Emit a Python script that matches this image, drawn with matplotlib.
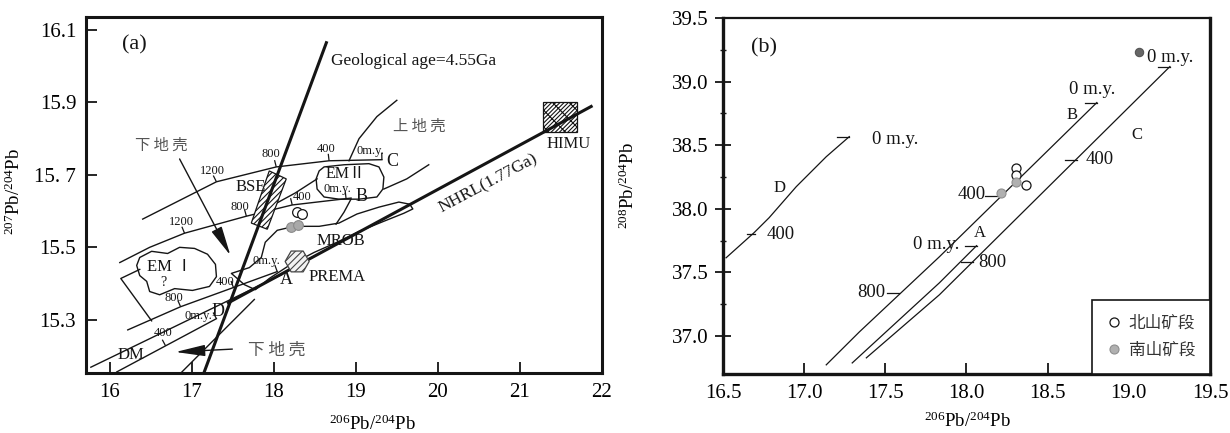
import numpy as np
import matplotlib
matplotlib.use('Agg')
import matplotlib.pyplot as plt
from matplotlib.patches import Polygon, Rectangle

plt.rcParams['font.family'] = ['Liberation Serif', 'Noto Sans CJK SC', 'DejaVu Sans']
plt.rcParams['mathtext.fontset'] = 'custom'
plt.rcParams['mathtext.rm'] = 'Liberation Serif'
plt.rcParams['mathtext.it'] = 'Liberation Serif:italic'
plt.rcParams['hatch.linewidth'] = 0.8

# ================= Panel (a) data: 207Pb/204Pb vs 206Pb/204Pb =================
a_xticks = [16, 17, 18, 19, 20, 21, 22]
a_xticklabels = ['16', '17', '18', '19', '20', '21', '22']
a_yticks = [15.3, 15.5, 15.7, 15.9, 16.1]
a_yticklabels = ['15.3', '15.5', '15. 7', '15.9', '16.1']

geochron_x = [17.15, 18.64]
geochron_y = [15.155, 16.065]
nhrl_x = [17.446, 21.868]
nhrl_y = [15.347, 15.889]

# growth curves (Zartman & Doe) with age ticks
curveC_x = [16.401, 17.300, 18.029, 18.673, 19.317]
curveC_y = [15.578, 15.681, 15.722, 15.739, 15.742]
curveC_tick_x = [17.300, 18.029, 18.673, 19.317]
curveC_tick_y = [15.681, 15.722, 15.739, 15.742]
curveC_tick_text = ['1200', '800', '400', '0m.y.']
curveC_text_x = [17.251, 17.968, 18.637, 19.183]
curveC_text_y = [15.711, 15.758, 15.772, 15.767]

curveB_x = [16.122, 16.486, 16.911, 17.665, 18.224, 18.941]
curveB_y = [15.458, 15.500, 15.539, 15.586, 15.617, 15.636]
curveB_tick_x = [16.911, 17.665, 18.224, 18.880]
curveB_tick_y = [15.539, 15.586, 15.617, 15.635]
curveB_tick_text = ['1200', '800', '400', '0m.y.']
curveB_text_x = [16.875, 17.580, 18.345, 18.780]
curveB_text_y = [15.569, 15.611, 15.639, 15.662]

curveA_x = [16.219, 16.863, 17.507, 18.041]
curveA_y = [15.272, 15.336, 15.389, 15.433]
curveA_tick_x = [16.863, 17.507, 18.041]
curveA_tick_y = [15.336, 15.389, 15.433]
curveA_tick_text = ['800', '400', '0m.y.']
curveA_text_x = [16.778, 17.409, 17.908]
curveA_text_y = [15.361, 15.403, 15.461]

curveD_x = [16.085, 17.300]
curveD_y = [15.156, 15.303]
curveD_tick_x = [16.680, 17.300]
curveD_tick_y = [15.228, 15.303]
curveD_tick_text = ['400', '0m.y.']
curveD_text_x = [16.656, 17.081]
curveD_text_y = [15.264, 15.311]

curve_names = ['C', 'B', 'A', 'D']
curve_name_x = [19.438, 19.074, 18.151, 17.324]
curve_name_y = [15.736, 15.639, 15.411, 15.322]

dm_line_x = [15.769, 18.102]
dm_line_y = [15.169, 15.425]
steep_line_x = [16.875, 17.762]
steep_line_y = [15.155, 15.356]
em1_side_x = [16.365, 16.134, 16.510]
em1_side_y = [15.439, 15.414, 15.297]
uc_line1_x = [19.499, 19.256, 19.038, 18.916]
uc_line1_y = [15.906, 15.861, 15.800, 15.739]
uc_line2_x = [18.940, 18.855, 18.758]
uc_line2_y = [15.633, 15.597, 15.564]
em2_right_x = [19.341, 19.620, 19.888]
em2_right_y = [15.661, 15.689, 15.728]
bse_em2_x = [17.944, 18.260, 18.527]
bse_em2_y = [15.611, 15.650, 15.689]

em1_x = [16.365, 16.510, 16.705, 16.851, 17.033, 17.191, 17.288, 17.300,
         17.215, 17.008, 16.790, 16.608, 16.486, 16.450, 16.365, 16.328]
em1_y = [15.472, 15.489, 15.483, 15.500, 15.497, 15.481, 15.453, 15.419,
         15.392, 15.381, 15.386, 15.369, 15.378, 15.406, 15.422, 15.450]
em2_x = [18.612, 18.855, 19.159, 19.281, 19.341, 19.329, 19.256, 19.038,
         18.794, 18.612, 18.527, 18.515, 18.552]
em2_y = [15.722, 15.728, 15.731, 15.722, 15.694, 15.661, 15.639, 15.633,
         15.633, 15.639, 15.661, 15.689, 15.711]
morb_x = [17.482, 17.701, 17.847, 17.895, 18.041, 18.248, 18.552, 18.794,
          19.013, 19.281, 19.524, 19.657, 19.694, 19.584, 19.341, 19.038,
          18.770, 18.491, 18.187, 17.944, 17.774, 17.640]
morb_y = [15.428, 15.444, 15.472, 15.514, 15.547, 15.558, 15.558, 15.567,
          15.592, 15.611, 15.625, 15.619, 15.606, 15.594, 15.572, 15.544,
          15.514, 15.486, 15.450, 15.414, 15.383, 15.397]
bse_x = [17.944, 18.151, 17.920, 17.725]
bse_y = [15.711, 15.689, 15.550, 15.567]
himu_x0, himu_x1 = 21.285, 21.698
himu_y0, himu_y1 = 15.819, 15.900
prema_x, prema_y = 18.284, 15.461

arrow_up_start = (16.851, 15.744)
arrow_up_end = (17.470, 15.478)
arrow_low_start = (17.494, 15.219)
arrow_low_end = (16.802, 15.211)

# samples, panel (a)
north_a_x = [18.284, 18.345]
north_a_y = [15.597, 15.591]
south_a_x = [18.211, 18.296]
south_a_y = [15.556, 15.561]

# ================= Panel (b) data: 208Pb/204Pb vs 206Pb/204Pb =================
b_xticks = [16.5, 17.0, 17.5, 18.0, 18.5, 19.0, 19.5]
b_yticks = [37.0, 37.5, 38.0, 38.5, 39.0, 39.5]

bD_x = [16.519, 16.691, 16.784, 16.951, 17.136, 17.278]
bD_y = [37.614, 37.811, 37.929, 38.173, 38.409, 38.567]
bA_x = [17.296, 17.833, 18.062]
bA_y = [36.787, 37.417, 37.709]
bB_x = [17.136, 17.340, 17.833, 18.803]
bB_y = [36.772, 37.031, 37.622, 38.835]
bC_x = [17.383, 17.833, 19.253]
bC_y = [36.827, 37.323, 39.118]

b_tick_x = [16.695, 17.278, 18.062, 17.586, 18.185, 18.803, 18.037, 18.679, 19.253]
b_tick_y = [37.805, 38.567, 37.709, 37.339, 38.102, 38.835, 37.583, 38.386, 39.118]
b_text = ['400', '0 m.y.', '0 m.y.', '800', '400', '0 m.y.', '800', '400', '0 m.y.']
b_text_x = [16.858, 17.562, 17.815, 17.414, 18.031, 18.772, 18.160, 18.821, 19.253]
b_text_y = [37.795, 38.543, 37.717, 37.339, 38.110, 38.937, 37.575, 38.386, 39.189]
b_names = ['D', 'A', 'B', 'C']
b_name_x = [16.846, 18.080, 18.648, 19.049]
b_name_y = [38.165, 37.811, 38.740, 38.583]

north_b_x = [18.302, 18.302, 18.364]
north_b_y = [38.323, 38.268, 38.189]
south_b_x = [18.302, 18.210]
south_b_y = [38.213, 38.126]
other_b_x = [19.062]
other_b_y = [39.236]

legend_labels = ['北山矿段', '南山矿段']

# ================================ drawing =====================================
INK = '#151515'
fig = plt.figure(figsize=(12.3, 4.33), dpi=100)
axa = fig.add_axes([86 / 1230, 1 - 373 / 433, 516 / 1230, 356 / 433])
axb = fig.add_axes([723 / 1230, 1 - 374 / 433, 487 / 1230, 356 / 433])

axa.set_xlim(15.71, 22.0)
axa.set_ylim(15.153, 16.136)
axb.set_xlim(16.5, 19.5)
axb.set_ylim(36.70, 39.5)


def perp_tick(ax, cx, cy, tx, ty, length=7.0, lw=0.9):
    T = ax.transData
    pts = T.transform(np.column_stack([cx, cy]))
    p = T.transform((tx, ty))
    best = None
    for i in range(len(pts) - 1):
        a, b = pts[i], pts[i + 1]
        ab = b - a
        t = np.clip(np.dot(p - a, ab) / np.dot(ab, ab), 0, 1)
        d = np.linalg.norm(a + t * ab - p)
        if best is None or d < best[0]:
            best = (d, ab / np.linalg.norm(ab))
    u = best[1]
    n = np.array([-u[1], u[0]])
    q = T.inverted().transform(p + length * n)
    ax.plot([tx, q[0]], [ty, q[1]], color=INK, lw=lw, solid_capstyle='butt')


def left_tick(ax, tx, ty, length=12.0, lw=0.9):
    T = ax.transData
    p = T.transform((tx, ty))
    q = T.inverted().transform(p + np.array([-length, 0]))
    ax.plot([tx, q[0]], [ty, q[1]], color=INK, lw=lw)


# ---------------- panel (a) ----------------
ax = axa
thin = dict(color=INK, lw=1.0, solid_joinstyle='round')
for cx, cy in [(curveC_x, curveC_y), (curveB_x, curveB_y), (curveA_x, curveA_y),
               (curveD_x, curveD_y), (dm_line_x, dm_line_y), (steep_line_x, steep_line_y),
               (em1_side_x, em1_side_y), (uc_line1_x, uc_line1_y), (uc_line2_x, uc_line2_y),
               (em2_right_x, em2_right_y), (bse_em2_x, bse_em2_y)]:
    ax.plot(cx, cy, **thin)

for poly_x, poly_y in [(em1_x, em1_y), (em2_x, em2_y), (morb_x, morb_y)]:
    ax.add_patch(Polygon(np.column_stack([poly_x, poly_y]), closed=True, fill=False,
                         edgecolor=INK, lw=1.0, joinstyle='round'))

ax.add_patch(Polygon(np.column_stack([bse_x, bse_y]), closed=True, facecolor='white',
                     edgecolor=INK, lw=0.9, hatch='//////', zorder=3))
ax.add_patch(Rectangle((himu_x0, himu_y0), himu_x1 - himu_x0, himu_y1 - himu_y0,
                       facecolor='white', edgecolor=INK, lw=0.9, hatch='\\\\////////', zorder=3))

ax.plot(geochron_x, geochron_y, color=INK, lw=2.2, zorder=4)
ax.plot(nhrl_x, nhrl_y, color=INK, lw=2.2, zorder=4)
ax.scatter([prema_x], [prema_y], marker='H', s=300, facecolor='#f2f2f2',
           edgecolor='#444444', linewidths=0.9, hatch='/////', zorder=5)

tick_font = dict(fontsize=9, color=INK, ha='center', va='center')
for cx, cy, tx, ty, tt, lx, ly in [
        (curveC_x, curveC_y, curveC_tick_x, curveC_tick_y, curveC_tick_text, curveC_text_x, curveC_text_y),
        (curveB_x, curveB_y, curveB_tick_x, curveB_tick_y, curveB_tick_text, curveB_text_x, curveB_text_y),
        (curveA_x, curveA_y, curveA_tick_x, curveA_tick_y, curveA_tick_text, curveA_text_x, curveA_text_y),
        (curveD_x, curveD_y, curveD_tick_x, curveD_tick_y, curveD_tick_text, curveD_text_x, curveD_text_y)]:
    for x, y, t, px, py in zip(tx, ty, tt, lx, ly):
        perp_tick(ax, cx, cy, x, y)
        ax.text(px, py, t, **tick_font)

for name, x, y in zip(curve_names, curve_name_x, curve_name_y):
    ax.text(x, y, name, fontsize=13, color=INK, ha='center', va='center')

ax.text(16.255, 15.203, 'DM', fontsize=12, color=INK, ha='center', va='center')
ax.text(16.729, 15.447, 'EM Ⅰ', fontsize=12, color=INK, ha='center', va='center')
ax.text(16.656, 15.403, '?', fontsize=10, color=INK, ha='center', va='center')
ax.text(18.87, 15.702, 'EMⅡ', fontsize=11.5, color=INK, ha='center', va='center')
ax.text(17.72, 15.667, 'BSE', fontsize=12, color=INK, ha='center', va='center', zorder=6)
ax.text(18.819, 15.517, 'MROB', fontsize=12, color=INK, ha='center', va='center')
ax.text(18.770, 15.419, 'PREMA', fontsize=12, color=INK, ha='center', va='center')
ax.text(21.589, 15.786, 'HIMU', fontsize=12, color=INK, ha='center', va='center')
ax.text(18.697, 16.014, 'Geological age=4.55Ga', fontsize=12.5, color=INK, ha='left', va='center')
ax.text(20.617, 15.675, 'NHRL(1.77Ga)', fontsize=12.5, color=INK, ha='center', va='center',
        rotation=28, rotation_mode='anchor')
cjk = ['Noto Sans CJK SC', 'DejaVu Sans']
ax.text(19.767, 15.833, '上 地 壳', fontsize=11, color='#555555', ha='center', va='center', family=cjk)
ax.text(16.632, 15.783, '下 地 壳', fontsize=11, color='#555555', ha='center', va='center', family=cjk)
ax.text(18.029, 15.217, '下 地 壳', fontsize=12, color='#555555', ha='center', va='center', family=cjk)
ax.text(16.304, 16.058, '(a)', fontsize=16, color=INK, ha='center', va='center')

arrow_kw = dict(arrowstyle='-|>,head_length=1.3,head_width=0.25', color=INK, lw=1.0,
                shrinkA=0, shrinkB=0, mutation_scale=14)
ax.annotate('', xy=arrow_up_end, xytext=arrow_up_start, arrowprops=arrow_kw)
ax.annotate('', xy=arrow_low_end, xytext=arrow_low_start, arrowprops=arrow_kw)

ax.plot(north_a_x, north_a_y, 'o', ms=7, mfc='white', mec=INK, mew=0.9, zorder=6)
ax.plot(south_a_x, south_a_y, 'o', ms=7, mfc='#a9a9a9', mec='#8a8a8a', mew=0.8, zorder=6)

ax.set_xticks(a_xticks)
ax.set_xticklabels(a_xticklabels)
ax.set_yticks(a_yticks)
ax.set_yticklabels(a_yticklabels)
ax.tick_params(direction='in', length=8, width=1.3, labelsize=15, color=INK, pad=7)
for s in ax.spines.values():
    s.set_linewidth(2.2)
    s.set_color(INK)
ax.set_xlabel(r'$^{206}$Pb/$^{204}$Pb', fontsize=13.5)
ax.xaxis.set_label_coords(0.554, -0.118)
ax.set_ylabel(r'$^{207}$Pb/$^{204}$Pb', fontsize=13.5)
ax.yaxis.set_label_coords(-0.12, 0.51)

# ---------------- panel (b) ----------------
ax = axb
for cx, cy in [(bD_x, bD_y), (bA_x, bA_y), (bB_x, bB_y), (bC_x, bC_y)]:
    ax.plot(cx, cy, color=INK, lw=0.9)
for i, (x, y, t, px, py) in enumerate(zip(b_tick_x, b_tick_y, b_text, b_text_x, b_text_y)):
    left_tick(ax, x, y, length=8.0 if i == 0 else 12.0)
    ax.text(px, py, t, fontsize=13.5, color=INK, ha='center', va='center')
for name, x, y in zip(b_names, b_name_x, b_name_y):
    ax.text(x, y, name, fontsize=12, color=INK, ha='center', va='center')
ax.text(16.753, 39.268, '(b)', fontsize=16, color=INK, ha='center', va='center')

hn, = ax.plot(north_b_x, north_b_y, 'o', ms=6.5, mfc='white', mec=INK, mew=0.9,
              zorder=6, label=legend_labels[0])
hs, = ax.plot(south_b_x, south_b_y, 'o', ms=6.5, mfc='#b0b0b0', mec='#8f8f8f', mew=0.8,
              zorder=6, label=legend_labels[1])
ax.plot(other_b_x, other_b_y, 'o', ms=6, mfc='#666666', mec='#555555', mew=0.8, zorder=6)

leg = ax.legend(handles=[hn, hs], loc='lower right', borderaxespad=0, fancybox=False,
                frameon=True, edgecolor=INK, framealpha=1, handletextpad=0.5,
                handlelength=0.8, borderpad=0.9, labelspacing=0.6,
                prop={'family': cjk, 'size': 12})
leg.get_frame().set_linewidth(1.2)
for t in leg.get_texts():
    t.set_color('#333333')

ax.set_xticks(b_xticks)
ax.set_xticklabels([f'{v:.1f}' for v in b_xticks])
ax.set_yticks(b_yticks)
ax.set_yticklabels([f'{v:.1f}' for v in b_yticks])
ax.set_yticks(np.arange(37.25, 39.5, 0.5), minor=True)
ax.tick_params(axis='x', direction='in', length=8, width=1.3, labelsize=15, pad=7, color=INK)
ax.tick_params(axis='y', which='major', direction='inout', length=11, width=1.3,
               labelsize=15, pad=5, color=INK)
ax.tick_params(axis='y', which='minor', direction='inout', length=4, width=1.0, color=INK)
for s in ax.spines.values():
    s.set_color(INK)
ax.spines['left'].set_linewidth(2.4)
ax.spines['bottom'].set_linewidth(2.4)
ax.spines['right'].set_linewidth(2.4)
ax.spines['top'].set_linewidth(1.6)
ax.set_xlabel(r'$^{206}$Pb/$^{204}$Pb', fontsize=13.5)
ax.xaxis.set_label_coords(0.501, -0.106)
ax.set_ylabel(r'$^{208}$Pb/$^{204}$Pb', fontsize=13.5)
ax.yaxis.set_label_coords(-0.175, 0.53)

fig.savefig('out.png', dpi=100)
